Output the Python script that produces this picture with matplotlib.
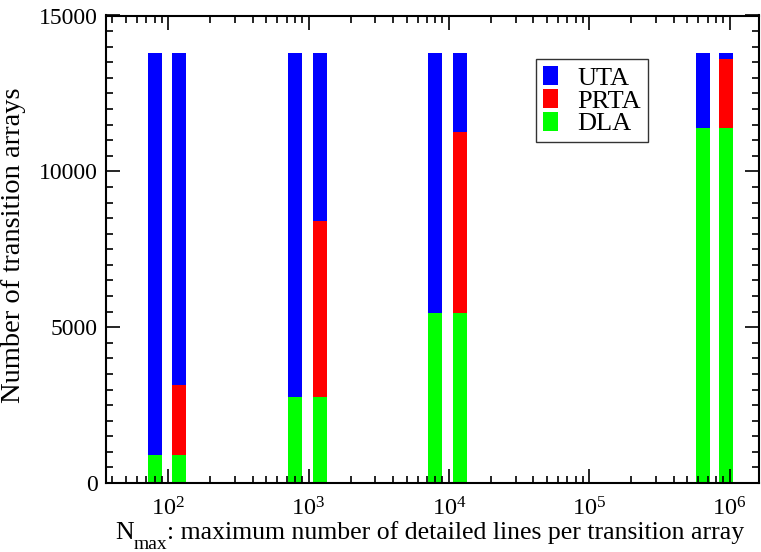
import numpy as np
import matplotlib
matplotlib.use("Agg")
import matplotlib.pyplot as plt
from matplotlib.ticker import LogLocator, MultipleLocator, NullFormatter
from matplotlib.patches import Patch

plt.rcParams['font.family'] = ['Liberation Serif', 'DejaVu Serif']
plt.rcParams['mathtext.fontset'] = 'custom'
plt.rcParams['mathtext.rm'] = 'Liberation Serif'
plt.rcParams['mathtext.it'] = 'Liberation Serif:italic'

# data
n_max = [80, 120, 800, 1200, 8000, 12000, 650000, 950000]
dla = [900, 900, 2760, 2760, 5460, 5460, 11400, 11400]
prta = [0, 2240, 0, 5640, 0, 5810, 0, 2220]
total = [13800] * 8
series_names = ["UTA", "PRTA", "DLA"]
series_colors = ["#0000ff", "#ff0000", "#00ff00"]

dla = np.array(dla)
prta = np.array(prta)
uta = np.array(total) - dla - prta

# bars with constant width in log space
x = np.array(n_max, dtype=float)
half = 10 ** 0.05
left = x / half
width = x * half - left

fig = plt.figure(figsize=(7.61, 5.52), dpi=100)
ax = fig.add_axes([106 / 761, (552 - 483) / 552, (759 - 106) / 761, (483 - 15.5) / 552])

ax.bar(left, dla, width=width, align='edge', color=series_colors[2], linewidth=0)
ax.bar(left, prta, width=width, bottom=dla, align='edge', color=series_colors[1], linewidth=0)
ax.bar(left, uta, width=width, bottom=dla + prta, align='edge', color=series_colors[0], linewidth=0)

ax.set_xscale('log')
ax.set_xlim(10 ** 1.557, 10 ** 6.21)
ax.set_ylim(0, 15000)

ax.xaxis.set_major_locator(LogLocator(base=10, numticks=10))
ax.xaxis.set_minor_locator(LogLocator(base=10, subs=np.arange(2, 10), numticks=20))
ax.xaxis.set_minor_formatter(NullFormatter())
ax.yaxis.set_major_locator(MultipleLocator(5000))
ax.yaxis.set_minor_locator(MultipleLocator(500))

ax.tick_params(which='both', direction='in', top=True, right=True, width=1.2)
ax.tick_params(which='major', length=10, labelsize=17)
ax.tick_params(axis='x', which='major', pad=10, labelsize=17.5)
ax.tick_params(axis='y', which='major', pad=6)
ax.tick_params(which='minor', length=5)
for s in ax.spines.values():
    s.set_linewidth(1.5)

# x label: N with a large, low "max" subscript, then the rest of the text
base_y = (552 - 539) / 552
t_n = ax.annotate("N", xy=(115 / 761, base_y), xycoords='figure fraction',
                  fontsize=18.5, va='baseline', ha='left')
t_max = ax.annotate("max", xy=(1, (552 - 549) / 552), xycoords=(t_n, 'figure fraction'),
                    fontsize=14, va='baseline', ha='left')
ax.annotate(": maximum number of detailed lines per transition array",
            xy=(1, base_y), xycoords=(t_max, 'figure fraction'),
            fontsize=18.5, va='baseline', ha='left')

ax.set_ylabel("Number of transition arrays", fontsize=20.5)
ax.yaxis.set_label_coords(-0.1225, 0.509)

handles = [Patch(facecolor=c, edgecolor='none') for c in series_colors]
leg = ax.legend(handles, series_names, loc='upper left', bbox_to_anchor=(0.6585, 0.906),
                fontsize=19, frameon=True, fancybox=False, edgecolor='black',
                handlelength=0.57, handleheight=0.72, handletextpad=0.76,
                labelspacing=-0.03, borderpad=0.25, borderaxespad=0)
leg.get_frame().set_linewidth(1.0)

fig.savefig("out.png", dpi=100)
